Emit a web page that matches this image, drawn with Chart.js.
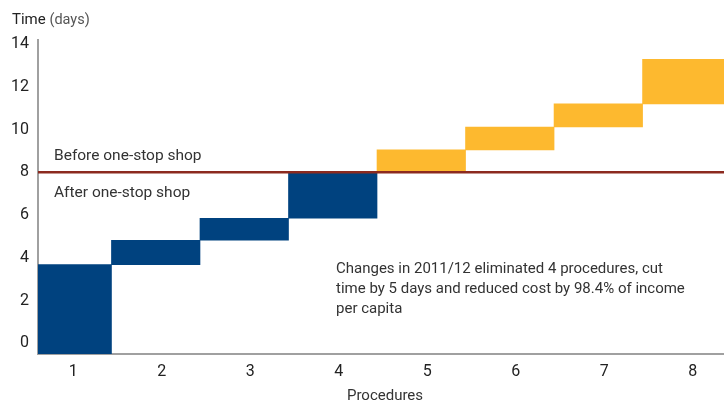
<!DOCTYPE html>
<html>
<head>
<meta charset="utf-8">
<script src="https://cdn.jsdelivr.net/npm/chart.js@4.4.1/dist/chart.umd.min.js"></script>
<style>
  html, body { margin: 0; padding: 0; background: #fff; }
  #wrap { width: 724px; height: 406px; position: relative; }
</style>
</head>
<body>
<div id="wrap"><canvas id="chart"></canvas></div>
<script>
// ---- dados ----
const procedures = [1, 2, 3, 4, 5, 6, 7, 8];
const startDays = [-0.5, 3.68, 4.82, 5.85, 8.0, 9.05, 10.12, 11.2];
const endDays = [3.68, 4.82, 5.85, 8.0, 9.05, 10.12, 11.2, 13.28];
const phase = ['after', 'after', 'after', 'after', 'before', 'before', 'before', 'before'];
const yTicks = [0, 2, 4, 6, 8, 10, 12, 14];
const oneStopDays = 8;

const X_MIN = 0.67, X_MAX = 8.42;
const Y_MIN = -0.5, Y_MAX = 14.19;

const BLUE = '#00427f';
const YELLOW = '#fdb92f';
const RED = '#8c2a1f';
const FONT = 'Roboto, "Noto Sans", sans-serif';

// textos fixos desenhados sobre o gráfico
const textPlugin = {
    id: 'textos',
    afterDraw(chart) {
        const ctx = chart.ctx;
        ctx.save();
        ctx.textBaseline = 'middle';
        ctx.textAlign = 'left';

        ctx.font = '15px ' + FONT;
        ctx.fillStyle = '#222';
        ctx.fillText('Time', 12, 20);
        const w = ctx.measureText('Time ').width;
        ctx.fillStyle = '#555';
        ctx.font = '14.5px ' + FONT;
        ctx.fillText('(days)', 12 + w, 20);

        ctx.fillStyle = '#333';
        ctx.font = '15.5px ' + FONT;
        ctx.fillText('Before one-stop shop', 54, 156);
        ctx.fillText('After one-stop shop', 54, 193);

        ctx.font = '15px ' + FONT;
        const nota = [
            'Changes in 2011/12 eliminated 4 procedures, cut',
            'time by 5 days and reduced cost by 98.4% of income',
            'per capita'
        ];
        nota.forEach((t, i) => ctx.fillText(t, 336, 269 + i * 20));

        ctx.textAlign = 'center';
        ctx.fillText('Procedures', 385, 396);
        ctx.restore();
    }
};

new Chart(document.getElementById('chart'), {
    type: 'bar',
    data: {
        datasets: [
            {
                type: 'line',
                data: [{ x: X_MIN, y: oneStopDays }, { x: X_MAX, y: oneStopDays }],
                borderColor: RED,
                borderWidth: 2.5,
                pointRadius: 0,
                order: 0
            },
            {
                type: 'bar',
                data: procedures.map((p, i) => ({ x: p, y: [startDays[i], endDays[i]] })),
                backgroundColor: phase.map(f => f === 'before' ? YELLOW : BLUE),
                borderWidth: 0,
                barPercentage: 1,
                categoryPercentage: 1,
                order: 1
            }
        ]
    },
    options: {
        responsive: true,
        maintainAspectRatio: false,
        animation: false,
        layout: { padding: { top: 40, right: 0, left: 0, bottom: 0 } },
        plugins: { legend: { display: false }, tooltip: { enabled: false } },
        scales: {
            x: {
                type: 'linear',
                offset: false,
                min: X_MIN,
                max: X_MAX,
                grid: { display: false, drawTicks: false, offset: false },
                border: { display: true, color: '#a0a0a0', width: 2 },
                afterBuildTicks: s => { s.ticks = procedures.map(v => ({ value: v })); },
                afterFit: s => { s.height = 52; },
                ticks: {
                    autoSkip: false,
                    maxRotation: 0,
                    padding: 8,
                    labelOffset: 6,
                    color: '#222',
                    font: { family: FONT, size: 16 }
                }
            },
            y: {
                min: Y_MIN,
                max: Y_MAX,
                grid: { display: false, drawTicks: false },
                border: { display: true, color: '#a0a0a0', width: 2 },
                afterBuildTicks: s => { s.ticks = yTicks.map(v => ({ value: v })); },
                afterFit: s => { s.width = 38; },
                ticks: {
                    padding: 9,
                    color: '#222',
                    font: { family: FONT, size: 16 }
                }
            }
        }
    },
    plugins: [textPlugin]
});
</script>
</body>
</html>
